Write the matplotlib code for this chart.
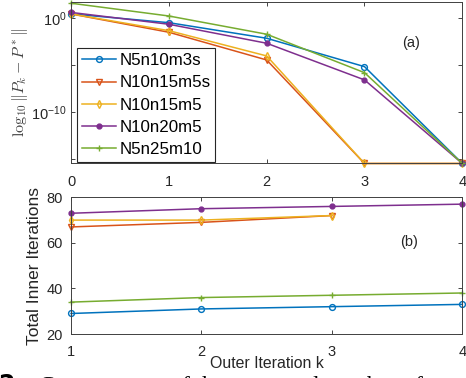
import numpy as np
import matplotlib
matplotlib.use("Agg")
import matplotlib.pyplot as plt
from matplotlib.ticker import FixedLocator, FixedFormatter, NullLocator

plt.rcParams['font.family'] = ['Liberation Sans', 'DejaVu Sans']

EPS = 3.5e-16

names = ["N5n10m3s", "N10n15m5s", "N10n15m5", "N10n20m5", "N5n25m10"]
colors = ["#0072BD", "#D95319", "#EDB120", "#7E2F8E", "#77AC30"]
markers = ["o", "v", "d", ".", "+"]

# panel (a): error norm per outer iteration (k = 0..4)
k_outer = [0, 1, 2, 3, 4]
err_log10 = {
    "N5n10m3s":  [0.46, -0.47, -2.13, -5.15, None],
    "N10n15m5s": [0.46, -1.49, -4.44, None, None],
    "N10n15m5":  [0.46, -1.32, -4.01, None, None],
    "N10n20m5":  [0.62, -0.64, -2.66, -6.56, None],
    "N5n25m10":  [1.60, 0.24, -1.70, -5.79, None],
}

# panel (b): total inner iterations
k_inner = {
    "N5n10m3s":  [1, 2, 3, 4],
    "N10n15m5s": [1, 2, 3],
    "N10n15m5":  [1, 2, 3],
    "N10n20m5":  [1, 2, 3, 4],
    "N5n25m10":  [1, 2, 3, 4],
}
inner_iters = {
    "N5n10m3s":  [29, 31, 32, 33],
    "N10n15m5s": [67, 69, 72],
    "N10n15m5":  [70, 70, 72],
    "N10n20m5":  [73, 75, 76, 77],
    "N5n25m10":  [34, 36, 37, 38],
}

fig = plt.figure(figsize=(4.66, 3.78), dpi=100)
ax1 = fig.add_axes([0.1524, 0.5675, 0.8397, 0.4265])
ax2 = fig.add_axes([0.1524, 0.1164, 0.8397, 0.3616])

spine_col = "#404040"

for name, col, mk in zip(names, colors, markers):
    vals = [EPS if v is None else 10 ** v for v in err_log10[name]]
    ms = 7 if mk == "." else 4.2
    ax1.semilogy(k_outer, vals, color=col, marker=mk, markersize=ms,
                 markerfacecolor='none' if mk not in (".", "+") else col,
                 markeredgewidth=1.0, linewidth=1.1, label=name, clip_on=False)
    ax2.plot(k_inner[name], inner_iters[name], color=col, marker=mk, markersize=ms,
             markerfacecolor='none' if mk not in (".", "+") else col,
             markeredgewidth=1.0, linewidth=1.1, clip_on=False)

ax1.set_xlim(0, 4)
ax1.set_ylim(EPS, 10 ** 1.7)
ax1.yaxis.set_major_locator(FixedLocator([1e0, 1e-5, 1e-10, 1e-15]))
ax1.yaxis.set_major_formatter(FixedFormatter([r'$\mathregular{10^{0}}$', '',
                                              r'$\mathregular{10^{-10}}$', '']))
ax1.yaxis.set_minor_locator(NullLocator())
ax1.set_xticks(k_outer)
ax1.set_ylabel(r'$\log_{10}\|P_k-P^*\|$', fontsize=11.5, color="#404040",
               math_fontfamily='cm', labelpad=1)
ax1.text(0.869, 0.75, "(a)", transform=ax1.transAxes, fontsize=10.5,
         ha='center', va='center', color='#262626')
leg = ax1.legend(loc='lower left', bbox_to_anchor=(0.015, 0.01), borderaxespad=0,
                 fontsize=12.2, fancybox=False, edgecolor='#262626',
                 handlelength=2.0, handletextpad=0.2, labelspacing=0.42,
                 borderpad=0.3, framealpha=1)
leg.get_frame().set_linewidth(0.8)

ax2.set_xlim(1, 4)
ax2.set_ylim(20, 80)
ax2.set_xticks([1, 2, 3, 4])
ax2.set_yticks([20, 40, 60, 80])
ax2.set_xlabel("Outer Iteration k", fontsize=11.4, color='#262626', labelpad=-2.5)
ax2.set_ylabel("Total Inner Iterations", fontsize=12.5, color='#262626', labelpad=3)
ax2.text(0.865, 0.675, "(b)", transform=ax2.transAxes, fontsize=10.5,
         ha='center', va='center', color='#262626')

for ax in (ax1, ax2):
    ax.tick_params(direction='in', top=True, right=True, labelsize=10.5,
                   colors='#262626', length=3, width=0.6, pad=6)
    ax.tick_params(axis='x', pad=8)
    for sp in ax.spines.values():
        sp.set_color(spine_col)
        sp.set_linewidth(0.7)
ax1.tick_params(axis='y', pad=3)

# caption of the page, cut off at the bottom edge
fig.text(-0.005, 0.017, r"$\mathbf{2:}$ Convergence of the outer and number of",
         fontsize=17, family='Liberation Serif', va='top', ha='left')

fig.savefig("out.png", dpi=100)
